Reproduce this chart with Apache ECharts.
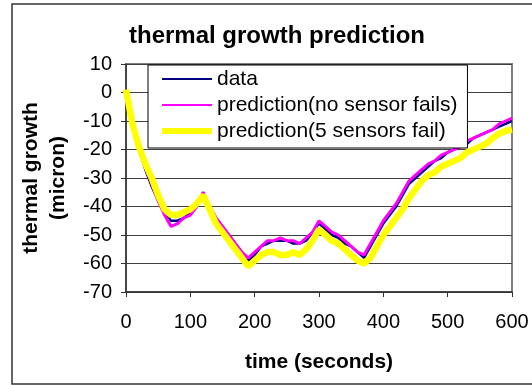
<!DOCTYPE html>
<html>
<head>
<meta charset="utf-8">
<script src="https://cdn.jsdelivr.net/npm/echarts@6/dist/echarts.min.js"></script>
<style>
  html, body { margin: 0; padding: 0; background: #fff; }
  #chart { width: 532px; height: 385px; }
</style>
</head>
<body>
<div id="chart"></div>
<script>
const chart = echarts.init(document.getElementById('chart'))

// time (seconds)
const timeSec = [0, 10, 20, 30, 40, 50, 60, 70, 80, 90,
  100, 110, 120, 130, 140, 150, 160, 170, 180, 190,
  200, 210, 220, 230, 240, 250, 260, 270, 280, 290,
  300, 310, 320, 330, 340, 350, 360, 370, 380, 390,
  400, 410, 420, 430, 440, 450, 460, 470, 480, 490,
  500, 510, 520, 530, 540, 550, 560, 570, 580, 590, 600]

// thermal growth (micron)
const measured = [0, -11, -20, -27, -33, -38, -42, -45, -45, -44,
  -42, -40, -35, -40, -44, -47, -50, -53, -56, -59,
  -57, -54, -53, -52, -52, -52, -53, -53, -52, -49,
  -46, -48, -50, -51, -53, -54, -56, -58, -54, -50,
  -46, -43, -40, -36, -32, -30, -28, -26, -24, -23,
  -21, -20, -19, -18, -16, -15, -14, -13, -12, -11, -10]

const predNoFail = [0, -12, -20, -26, -32, -38, -43, -47, -46, -44,
  -43, -40, -35, -40, -44, -47, -50, -53, -56, -58,
  -56, -54, -52, -52, -51, -52, -52, -53, -51, -49,
  -45, -47, -49, -50, -52, -54, -56, -57, -53, -49,
  -45, -42, -39, -35, -31, -29, -27, -25, -24, -22,
  -21, -20, -19, -17, -16, -15, -14, -13, -11, -10, -9]

const pred5Fail = [1, -11, -19, -25, -30, -36, -41, -43, -43, -42,
  -41, -39, -36, -41, -46, -49, -52, -55, -58, -61,
  -59, -57, -56, -56, -57, -57, -56, -57, -55, -52,
  -48, -50, -52, -53, -55, -57, -59, -60, -58, -54,
  -50, -47, -44, -41, -37, -34, -31, -29, -28, -26,
  -25, -24, -23, -21, -20, -19, -18, -16, -14.5, -13.5, -13]

const seriesNames = ['data', 'prediction(no sensor fails)', 'prediction(5 sensors fail)']
const lineColors = ['#000080', '#ff00ff', '#ffff00']
const lineWidths = [2.5, 3, 6.5]
const legendWidths = [2, 2, 6]

const pairs = (vals) => timeSec.map((t, i) => [t, vals[i]])
const font = "'Liberation Sans', Arial, sans-serif"

let option = {
  animation: false,
  backgroundColor: '#fff',
  title: {
    text: 'thermal growth prediction',
    left: 272,
    top: 19,
    textAlign: 'center',
    textStyle: {
      fontFamily: font,
      fontSize: 24,
      fontWeight: 'bold',
      color: '#000'
    }
  },
  graphic: [{
    type: 'rect',
    shape: { x: 12, y: 4, width: 540, height: 380 },
    style: { fill: 'none', stroke: '#333', lineWidth: 1.5 },
    z: -1
  }],
  legend: {
    data: seriesNames.map((name, i) => ({
      name: name,
      lineStyle: { width: legendWidths[i], color: lineColors[i] }
    })),
    orient: 'vertical',
    left: 148,
    top: 65,
    padding: [3, 10, 6, 11],
    itemWidth: 50,
    itemHeight: 14,
    itemGap: 4,
    itemStyle: { opacity: 0 },
    backgroundColor: '#fff',
    borderColor: '#000',
    borderWidth: 1,
    textStyle: {
      fontFamily: font,
      fontSize: 21,
      lineHeight: 22,
      color: '#000'
    }
  },
  grid: {
    left: 126,
    right: 20,
    top: 64,
    bottom: 93,
    show: true,
    borderColor: '#808080',
    borderWidth: 2
  },
  xAxis: {
    type: 'value',
    min: 0,
    max: 600,
    interval: 100,
    name: 'time (seconds)',
    nameLocation: 'middle',
    nameGap: 60,
    nameTextStyle: {
      fontFamily: font,
      fontSize: 21,
      fontWeight: 'bold',
      color: '#000'
    },
    axisLine: { onZero: false, lineStyle: { color: '#333', width: 1.5 } },
    axisTick: { show: true, length: 5, lineStyle: { color: '#333' } },
    axisLabel: { fontFamily: font, fontSize: 20, color: '#000', margin: 20 },
    splitLine: { show: false }
  },
  yAxis: {
    type: 'value',
    min: -70,
    max: 10,
    interval: 10,
    name: 'thermal growth\n(micron)',
    nameLocation: 'middle',
    nameGap: 52,
    nameTextStyle: {
      fontFamily: font,
      fontSize: 21,
      fontWeight: 'bold',
      lineHeight: 27,
      color: '#000'
    },
    axisLine: { show: true, lineStyle: { color: '#333', width: 1.5 } },
    axisTick: { show: true, length: 5, lineStyle: { color: '#333' } },
    axisLabel: { fontFamily: font, fontSize: 20, color: '#000', margin: 14 },
    splitLine: { show: true, lineStyle: { color: '#404040', width: 1.2 } }
  },
  series: [
    {
      name: seriesNames[0],
      type: 'line',
      data: pairs(measured),
      symbol: 'none',
      lineStyle: { color: lineColors[0], width: lineWidths[0] },
      itemStyle: { color: lineColors[0] }
    },
    {
      name: seriesNames[1],
      type: 'line',
      data: pairs(predNoFail),
      symbol: 'none',
      lineStyle: { color: lineColors[1], width: lineWidths[1] },
      itemStyle: { color: lineColors[1] }
    },
    {
      name: seriesNames[2],
      type: 'line',
      data: pairs(pred5Fail),
      symbol: 'none',
      lineStyle: { color: lineColors[2], width: lineWidths[2] },
      itemStyle: { color: lineColors[2] }
    }
  ]
}
chart.setOption(option)
</script>
</body>
</html>
